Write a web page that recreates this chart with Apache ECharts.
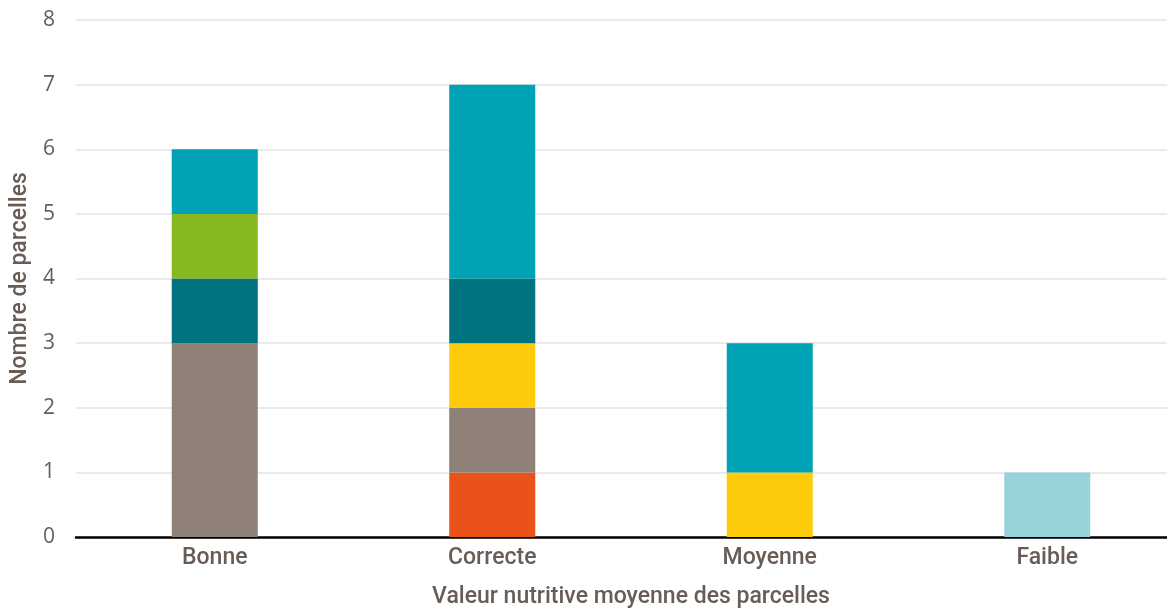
<!DOCTYPE html>
<html>
<head>
<meta charset="utf-8">
<script src="https://cdn.jsdelivr.net/npm/echarts@6/dist/echarts.min.js"></script>
<style>
html,body{margin:0;padding:0;background:#fff;}
#chart{width:1167px;height:608px;}
</style>
</head>
<body>
<div id="chart"></div>
<script>
// Categories on the x axis
const categories = ['Bonne', 'Correcte', 'Moyenne', 'Faible'];
// Y axis tick labels (0..8)
const yTicks = [0, 1, 2, 3, 4, 5, 6, 7, 8];

// Stack segments, bottom to top
const seriesOrange    = [0, 1, 0, 0];
const seriesTaupe     = [3, 1, 0, 0];
const seriesYellow    = [0, 1, 1, 0];
const seriesDarkTeal  = [1, 1, 0, 0];
const seriesGreen     = [1, 0, 0, 0];
const seriesTeal      = [1, 3, 2, 0];
const seriesLightBlue = [0, 0, 0, 1];

const stacks = [
  { name: 'orange',    data: seriesOrange,    color: '#E95319' },
  { name: 'taupe',     data: seriesTaupe,     color: '#8F8078' },
  { name: 'jaune',     data: seriesYellow,    color: '#FECB0A' },
  { name: 'sarcelle',  data: seriesDarkTeal,  color: '#007381' },
  { name: 'vert',      data: seriesGreen,     color: '#87B81F' },
  { name: 'turquoise', data: seriesTeal,      color: '#00A3B5' },
  { name: 'bleu clair',data: seriesLightBlue, color: '#98D3DA' }
];

const textColor = '#685C56';
// medium weight for category labels and axis titles, regular for value ticks
const strongText = { color: textColor, fontSize: 23, fontWeight: 500, fontFamily: 'Roboto, "Open Sans", sans-serif' };
const tickText = { color: textColor, fontSize: 21, fontWeight: 400, fontFamily: '"Open Sans", Roboto, sans-serif' };

const chart = echarts.init(document.getElementById('chart'));
chart.setOption({
  animation: false,
  backgroundColor: '#fff',
  grid: { left: 76, right: -19, top: 20, bottom: 71, containLabel: false, outerBoundsMode: 'none' },
  xAxis: {
    type: 'category',
    data: categories,
    name: 'Valeur nutritive moyenne des parcelles',
    nameLocation: 'middle',
    nameGap: 49,
    nameTextStyle: Object.assign({}, strongText),
    axisLine: { show: true, lineStyle: { color: '#000', width: 2.5 } },
    axisTick: { show: false },
    axisLabel: Object.assign({ margin: 10 }, strongText),
    splitLine: { show: false }
  },
  yAxis: {
    type: 'value',
    min: yTicks[0],
    max: yTicks[yTicks.length - 1],
    interval: 1,
    name: 'Nombre de parcelles',
    nameLocation: 'middle',
    nameGap: 42,
    nameRotate: 90,
    nameTextStyle: Object.assign({}, strongText),
    axisLine: { show: false },
    axisTick: { show: false },
    axisLabel: Object.assign({ margin: 21 }, tickText),
    splitLine: { show: true, lineStyle: { color: '#E3E3E3', width: 1.5 } }
  },
  series: stacks.map(s => ({
    name: s.name,
    type: 'bar',
    stack: 'total',
    barWidth: '31%',
    data: s.data.map(v => v === 0 ? null : v),
    itemStyle: { color: s.color },
    emphasis: { disabled: true }
  }))
});
</script>
</body>
</html>
